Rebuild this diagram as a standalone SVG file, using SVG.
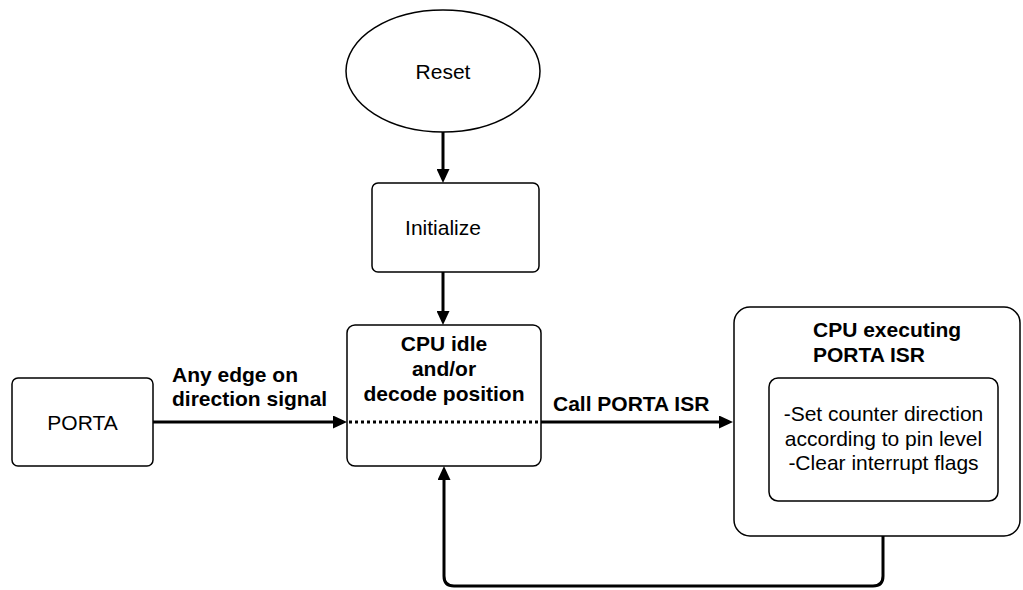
<svg xmlns="http://www.w3.org/2000/svg" width="1023" height="590" viewBox="0 0 1023 590">
  <style>
    .shape { fill: #ffffff; stroke: #000000; stroke-width: 1.5; }
    .txt { font-family: "Liberation Sans", Arial, sans-serif; font-size: 21px; fill: #000000; }
    .bold { font-weight: bold; }
    .mid { text-anchor: middle; }
    .edge { fill: none; stroke: #000000; stroke-width: 3; }
    .dotted { fill: none; stroke: #000000; stroke-width: 3; stroke-dasharray: 3 3; }
  </style>
  <defs>
    <marker id="arrow" viewBox="0 0 14 13" refX="10" refY="6.5" markerWidth="14" markerHeight="13" markerUnits="userSpaceOnUse" orient="auto">
      <path d="M0,0 L14,6.5 L0,13 Z" fill="#000000"/>
    </marker>
  </defs>
  <rect width="1023" height="590" fill="#ffffff"/>

  <g id="reset">
    <ellipse class="shape" cx="443" cy="71" rx="97" ry="61"/>
    <text class="txt mid" x="443" y="78.5">Reset</text>
  </g>

  <g id="initialize">
    <rect class="shape" x="372" y="183" width="167" height="89" rx="6"/>
    <text class="txt mid" x="443" y="235">Initialize</text>
  </g>

  <g id="cpu-idle">
    <rect class="shape" x="347" y="325" width="194" height="141" rx="8"/>
    <text class="txt bold mid" x="444" y="350.5">CPU idle</text>
    <text class="txt bold mid" x="444" y="375.5">and/or</text>
    <text class="txt bold mid" x="444" y="400.5">decode position</text>
    <line class="dotted" x1="349" y1="422" x2="539" y2="422"/>
  </g>

  <g id="porta">
    <rect class="shape" x="12" y="378" width="141" height="88" rx="6"/>
    <text class="txt mid" x="82.5" y="429.5">PORTA</text>
  </g>

  <g id="cpu-isr">
    <rect class="shape" x="734" y="307" width="286" height="229" rx="16"/>
    <text class="txt bold" x="813" y="337">CPU executing</text>
    <text class="txt bold" x="813" y="362">PORTA ISR</text>
    <g id="isr-body">
      <rect class="shape" x="769" y="378" width="229" height="123" rx="9"/>
      <text class="txt mid" x="883.5" y="421">-Set counter direction</text>
      <text class="txt mid" x="883.5" y="446">according to pin level</text>
      <text class="txt mid" x="883.5" y="470">-Clear interrupt flags</text>
    </g>
  </g>

  <g id="connectors">
    <path class="edge" d="M443,132 V179" marker-end="url(#arrow)"/>
    <path class="edge" d="M443,272 V321" marker-end="url(#arrow)"/>
    <path class="edge" d="M153,422 H343" marker-end="url(#arrow)"/>
    <text class="txt bold" x="172" y="382">Any edge on</text>
    <text class="txt bold" x="172" y="406">direction signal</text>
    <path class="edge" d="M541,422 H729" marker-end="url(#arrow)"/>
    <text class="txt bold" x="553" y="411">Call PORTA ISR</text>
    <path class="edge" d="M883,536 V576 Q883,586 873,586 H454 Q444,586 444,576 V470" marker-end="url(#arrow)"/>
  </g>
</svg>
